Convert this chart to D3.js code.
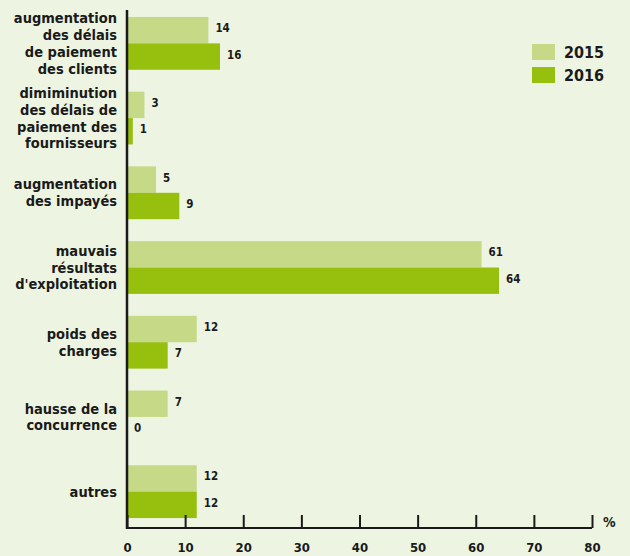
<!DOCTYPE html>
<html>
<head>
<meta charset="utf-8">
<script src="https://cdn.jsdelivr.net/npm/d3@7"></script>
<style>
  body { margin: 0; background: #edf5e2; }
  svg text { font-family: "DejaVu Sans Condensed", "DejaVu Sans", sans-serif; font-weight: bold; fill: #1a1a1a; }
</style>
</head>
<body>
<div id="chart"></div>
<script>
// categories (label lines) and values
const categories = [
  ["augmentation", "des délais", "de paiement", "des clients"],
  ["dimiminution", "des délais de", "paiement des", "fournisseurs"],
  ["augmentation", "des impayés"],
  ["mauvais", "résultats", "d'exploitation"],
  ["poids des", "charges"],
  ["hausse de la", "concurrence"],
  ["autres"]
];
const values2015 = [14, 3, 5, 61, 12, 7, 12];
const values2016 = [16, 1, 9, 64, 7, 0, 12];
const years = ["2015", "2016"];
const xTicks = [0, 10, 20, 30, 40, 50, 60, 70, 80];

const colors = { "2015": "#c6d986", "2016": "#97bf0e" };

const width = 630, height = 556;
const margins = { top: 5, left: 127, right: 38, bottom: 28 };

const svg = d3.select("#chart").append("svg")
  .attr("width", width)
  .attr("height", height);

const xScale = d3.scaleLinear()
  .domain([0, 80])
  .range([margins.left, width - margins.right]);

const yScale = d3.scaleBand()
  .domain(d3.range(categories.length))
  .range([5, 530])
  .paddingInner(22 / 75)
  .paddingOuter(12 / 75);

const sub = d3.scaleBand()
  .domain(years)
  .range([0, yScale.bandwidth()]);

const data = categories.map((c, i) => ({
  i, lines: c,
  vals: [{ year: "2015", v: values2015[i] }, { year: "2016", v: values2016[i] }]
}));

const groups = svg.selectAll("g.grp")
  .data(data)
  .join("g")
  .attr("class", "grp")
  .attr("transform", d => `translate(0,${yScale(d.i)})`);

groups.selectAll("rect")
  .data(d => d.vals)
  .join("rect")
  .attr("x", xScale(0))
  .attr("y", d => sub(d.year))
  .attr("width", d => xScale(d.v) - xScale(0))
  .attr("height", sub.bandwidth())
  .attr("fill", d => colors[d.year]);

groups.selectAll("text.val")
  .data(d => d.vals)
  .join("text")
  .attr("class", "val")
  .attr("x", d => xScale(d.v) + 7)
  .attr("y", d => sub(d.year) + sub.bandwidth() / 2 - 2)
  .attr("dy", "0.35em")
  .attr("font-size", 11.5)
  .text(d => d.v);

// category labels
const lineH = 16.8;
groups.append("text")
  .attr("class", "cat")
  .attr("text-anchor", "end")
  .attr("font-size", 14.5)
  .each(function (d) {
    const t = d3.select(this);
    const n = d.lines.length;
    const y0 = yScale.bandwidth() / 2 - (n - 1) * lineH / 2;
    d.lines.forEach((l, k) => {
      t.append("tspan")
        .attr("x", margins.left - 10)
        .attr("y", y0 + k * lineH)
        .attr("dy", "0.35em")
        .text(l);
    });
  });

// x axis
const axisY = 528;
const xAxis = svg.append("g")
  .attr("transform", `translate(0,${axisY})`)
  .call(d3.axisBottom(xScale).tickValues(xTicks).tickSize(-13).tickPadding(15));
xAxis.select(".domain").attr("stroke", "#1a1a1a").attr("stroke-width", 2)
  .attr("d", `M${xScale(0)},0H${xScale(80)}`);
xAxis.selectAll(".tick line").attr("stroke", "#1a1a1a").attr("stroke-width", 2);
xAxis.selectAll(".tick text")
  .attr("font-size", 13)
  .attr("font-family", "'DejaVu Sans Condensed', sans-serif")
  .attr("font-weight", "bold")
  .attr("fill", "#1a1a1a");

svg.append("text")
  .attr("x", xScale(80) + 11)
  .attr("y", 527)
  .attr("font-size", 14)
  .text("%");

// vertical axis line
svg.append("line")
  .attr("x1", xScale(0)).attr("x2", xScale(0))
  .attr("y1", 10).attr("y2", axisY + 1)
  .attr("stroke", "#1a1a1a")
  .attr("stroke-width", 2.5);

// legend
const legend = svg.append("g").attr("transform", "translate(532,44)");
years.forEach((y, k) => {
  legend.append("rect")
    .attr("x", 0).attr("y", k * 23)
    .attr("width", 23).attr("height", 16)
    .attr("fill", colors[y]);
  legend.append("text")
    .attr("x", 32).attr("y", k * 23 + 8)
    .attr("dy", "0.35em")
    .attr("font-size", 16)
    .text(y);
});
</script>
</body>
</html>
